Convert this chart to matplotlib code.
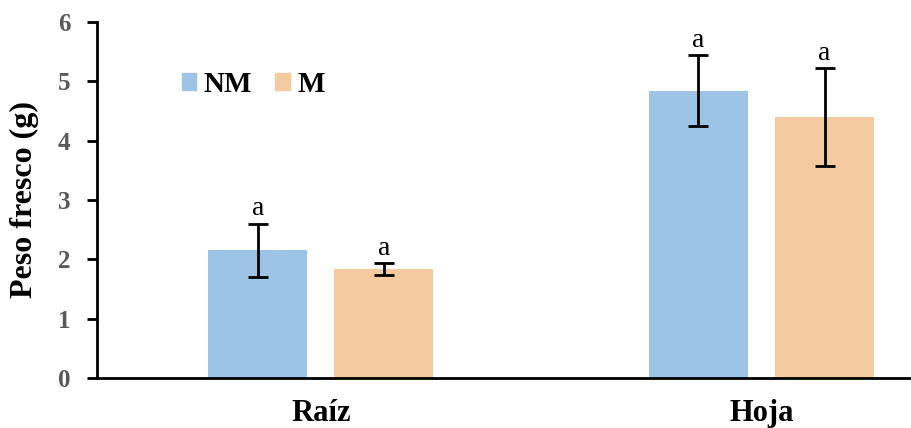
import numpy as np
import matplotlib.pyplot as plt
from matplotlib.patches import Patch

categorias = ['Raíz', 'Hoja']
series = ['NM', 'M']
nm_vals = [2.15, 4.84]
nm_err = [0.45, 0.60]
m_vals = [1.83, 4.40]
m_err = [0.10, 0.82]
letras_nm = ['a', 'a']
letras_m = ['a', 'a']

col_nm = '#9dc3e6'
col_m = '#f4cba0'

plt.rcParams['font.family'] = ['Liberation Serif', 'DejaVu Serif']

fig = plt.figure(figsize=(9.11, 4.28), dpi=100)
ax = fig.add_axes([97 / 911, 50 / 428, (910 - 97) / 911, (378 - 22) / 428])

x = np.arange(len(categorias))
w = 0.225
off = 0.143

err_kw = dict(ecolor='black', elinewidth=2, capsize=7, capthick=2)
ax.bar(x - off, nm_vals, w, color=col_nm, yerr=nm_err, error_kw=err_kw, zorder=2)
ax.bar(x + off, m_vals, w, color=col_m, yerr=m_err, error_kw=err_kw, zorder=2)

for i in range(len(categorias)):
    ax.text(x[i] - off, nm_vals[i] + nm_err[i] + 0.04, letras_nm[i],
            ha='center', va='bottom', fontsize=20)
    ax.text(x[i] + off, m_vals[i] + m_err[i] + 0.04, letras_m[i],
            ha='center', va='bottom', fontsize=20)

ax.set_xlim(-0.508, 1.337)
ax.set_ylim(0, 6)
ax.set_yticks(range(0, 7))
ax.set_xticks(x)
ax.set_xticklabels(categorias, fontsize=22, fontweight='bold')
ax.tick_params(axis='x', length=0, pad=15)
ax.tick_params(axis='y', direction='out', length=7, width=2, pad=12,
               labelsize=18, labelcolor='#595959')
for lbl in ax.get_yticklabels():
    lbl.set_fontweight('bold')

ax.set_ylabel('Peso fresco (g)', fontsize=23, fontweight='bold', labelpad=14)

for s in ['top', 'right']:
    ax.spines[s].set_visible(False)
ax.spines['left'].set_linewidth(2)
ax.spines['bottom'].set_linewidth(2)

handles = [Patch(color=col_nm, label=series[0]), Patch(color=col_m, label=series[1])]
leg = ax.legend(handles=handles, loc='upper left', bbox_to_anchor=(0.079, 0.92),
                ncol=2, frameon=False, handlelength=0.5, handleheight=0.5,
                handletextpad=0.25, columnspacing=0.8, borderpad=0.2,
                prop={'weight': 'bold', 'size': 21})

fig.savefig('out.png', dpi=100)
